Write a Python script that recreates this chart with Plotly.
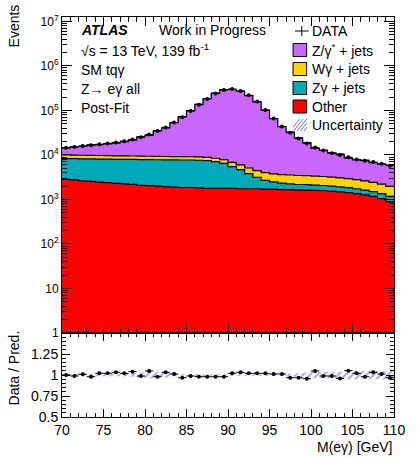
import numpy as np
import plotly.graph_objects as go

# ---------------- data ----------------
bin_edges = list(range(70, 111))          # M(e gamma) bins, 1 GeV wide
data_counts = [14450, 15140, 15850, 16600, 17380, 18200, 19050, 20420, 22390, 25120,
               28840, 34670, 41690, 53700, 70800, 97700, 134900, 182000, 239900, 288400,
               302000, 275400, 218800, 158500, 102300, 66070, 43650, 31620, 23440, 18200,
               14790, 12590, 10970, 10000, 8910, 7940, 7410, 6920, 6310, 5750]
other = [2820, 2750, 2630, 2570, 2460, 2400, 2290, 2240, 2190, 2090,
         2040, 2000, 1950, 1900, 1860, 1860, 1820, 1780, 1780, 1780,
         1780, 1740, 1740, 1740, 1700, 1700, 1660, 1660, 1620, 1620,
         1600, 1570, 1530, 1480, 1420, 1350, 1270, 1170, 1050, 890]
zgam_jets = [5500, 5530, 5560, 5590, 5620, 5650, 5680, 5710, 5740, 5770,
             5800, 5810, 5820, 5830, 5840, 5840, 5800, 5650, 5300, 4680,
             3720, 2940, 2060, 1420, 1000, 780, 660, 590, 550, 530,
             510, 490, 470, 440, 420, 390, 360, 330, 310, 285]
wgam_jets = [1680, 1670, 1660, 1650, 1640, 1620, 1600, 1580, 1560, 1540,
             1520, 1500, 1480, 1460, 1440, 1420, 1400, 1380, 1360, 1340,
             1320, 1310, 1300, 1300, 1300, 1290, 1280, 1300, 1290, 1270,
             1250, 1220, 1180, 1140, 1090, 1040, 980, 920, 860, 790]
zjets = [4450, 5370, 5870, 7130, 7320, 8170, 8890, 10490, 12040, 16030,
         18160, 26070, 31150, 43870, 64000, 89770, 128630, 176900, 236360, 286490,
         289260, 260870, 209410, 150930, 96290, 61520, 39530, 29120, 20760, 15620,
         10750, 9460, 7920, 7360, 5540, 5000, 4950, 4290, 4020, 3980]
ratio_unc = [0.015, 0.015, 0.015, 0.015, 0.015, 0.015, 0.015, 0.015, 0.02, 0.03,
             0.04, 0.04, 0.03, 0.015, 0.01, 0.01, 0.01, 0.01, 0.01, 0.01,
             0.01, 0.01, 0.01, 0.01, 0.01, 0.01, 0.01, 0.015, 0.02, 0.03,
             0.04, 0.04, 0.035, 0.04, 0.05, 0.05, 0.045, 0.05, 0.05, 0.05]

y_ticks = [1, 10, 100, 1e3, 1e4, 1e5, 1e6, 1e7]
y_ticktext = ["1", "10", "10<sup>2</sup>", "10<sup>3</sup>", "10<sup>4</sup>",
              "10<sup>5</sup>", "10<sup>6</sup>", "10<sup>7</sup>"]
r_ticks = [0.5, 0.75, 1, 1.25]
r_ticktext = ["0.5", "0.75", "1", "1.25"]

# ---------------- derived ----------------
edges = np.array(bin_edges, dtype=float)
centers = 0.5 * (edges[:-1] + edges[1:])
half_w = 0.5 * (edges[1:] - edges[:-1])
data = np.array(data_counts, float)
comps = [("Other", np.array(other, float), "#ff0000"),
         ("Zγ + jets", np.array(zgam_jets, float), "#00a9b7"),
         ("Wγ + jets", np.array(wgam_jets, float), "#ffd200"),
         ("Z/γ* + jets", np.array(zjets, float), "#c966fb")]
total = sum(c[1] for c in comps)
ratio = data / total
ratio_err = np.sqrt(data) / total
unc = np.array(ratio_unc)

FONT = "Liberation Sans, Arial, Helvetica, sans-serif"
fig = go.Figure()

# stacked histogram fills
for name, vals, col in comps:
    fig.add_trace(go.Bar(x=centers, y=vals, width=2 * half_w, name=name,
                         marker=dict(color=col, line=dict(color=col, width=0.6)),
                         showlegend=False, xaxis="x", yaxis="y"))

# step outlines on each cumulative level
cum = np.zeros_like(total)
for name, vals, col in comps:
    cum = cum + vals
    fig.add_trace(go.Scatter(x=edges, y=np.append(cum, cum[-1]), mode="lines",
                             line=dict(color="black", width=1.2, shape="hv"),
                             showlegend=False, hoverinfo="skip", xaxis="x", yaxis="y"))

# data points
fig.add_trace(go.Scatter(x=centers, y=data, mode="markers",
                         marker=dict(color="black", size=4),
                         error_x=dict(type="data", array=half_w, width=0, thickness=1, color="black"),
                         error_y=dict(type="data", array=np.sqrt(data), width=0, thickness=1, color="black"),
                         showlegend=False, xaxis="x", yaxis="y"))

# ratio uncertainty band (hatched)
fig.add_trace(go.Scatter(x=edges, y=np.append(1 + unc, 1 + unc[-1]), mode="lines",
                         line=dict(width=0, shape="hv"), showlegend=False,
                         hoverinfo="skip", xaxis="x2", yaxis="y2"))
fig.add_trace(go.Scatter(x=edges, y=np.append(1 - unc, 1 - unc[-1]), mode="lines",
                         line=dict(width=0, shape="hv"), fill="tonexty",
                         fillcolor="rgba(0,0,0,0)",
                         fillpattern=dict(shape="/", fgcolor="#3c3cff", bgcolor="rgba(0,0,0,0)",
                                          size=5, solidity=0.35),
                         showlegend=False, hoverinfo="skip", xaxis="x2", yaxis="y2"))

# ratio points
fig.add_trace(go.Scatter(x=centers, y=ratio, mode="markers",
                         marker=dict(color="black", size=4),
                         error_x=dict(type="data", array=half_w, width=0, thickness=1, color="black"),
                         error_y=dict(type="data", array=ratio_err, width=0, thickness=1, color="black"),
                         showlegend=False, xaxis="x2", yaxis="y2"))

# ---------------- layout ----------------
L, R, T, B = 62, 13, 17, 41
W, H = 417, 458
PW, PH = W - L - R, H - T - B


def px(x):
    return (x - L) / PW


def py(y):
    return (H - B - y) / PH


split = py(333)

axis_common = dict(showline=True, linecolor="black", linewidth=1, mirror="ticks",
                   ticks="inside", showgrid=False, zeroline=False, tickcolor="black")

fig.update_layout(
    width=W, height=H, margin=dict(l=L, r=R, t=T, b=B),
    paper_bgcolor="white", plot_bgcolor="white",
    barmode="stack", bargap=0,
    font=dict(family=FONT, size=14, color="black"),
    xaxis=dict(domain=[0, 1], anchor="y", range=[70, 110], dtick=5, tick0=70,
               ticklen=9, showticklabels=False,
               minor=dict(dtick=1, ticks="inside", ticklen=5, tickcolor="black"),
               **axis_common),
    yaxis=dict(domain=[split, 1], anchor="x", type="log", range=[0, 7.1],
               tickmode="array", tickvals=y_ticks, ticktext=y_ticktext, ticklen=10,
               tickfont=dict(size=12),
               minor=dict(tickmode="array", ticks="inside", ticklen=5, tickcolor="black",
                          tickvals=[m * 10 ** k for k in range(0, 7) for m in range(2, 10)]),
               **axis_common),
    xaxis2=dict(domain=[0, 1], anchor="y2", matches="x", range=[70, 110], dtick=5, tick0=70,
                ticklen=8, tickfont=dict(size=14),
                minor=dict(dtick=1, ticks="inside", ticklen=4, tickcolor="black"),
                **axis_common),
    yaxis2=dict(domain=[0, split], anchor="x2", range=[0.5, 1.5],
                tickmode="array", tickvals=r_ticks, ticktext=r_ticktext, ticklen=8,
                tickfont=dict(size=14),
                minor=dict(tickmode="array", ticks="inside", ticklen=4, tickcolor="black",
                           tickvals=[0.5 + 0.05 * i for i in range(1, 20)]),
                **axis_common),
)

ann = []


def text(x, y, s, **kw):
    d = dict(x=px(x), y=py(y), xref="paper", yref="paper", text=s, showarrow=False,
             xanchor="left", yanchor="middle", font=dict(family=FONT, size=14, color="black"))
    d.update(kw)
    ann.append(d)


text(79, 30, "<b><i>ATLAS</i></b>")
text(160, 30, "Work in Progress")
text(79, 50, "√s = 13 TeV, 139 fb<sup>-1</sup>")
text(79, 70, "SM tqγ")
text(79, 89, "Z→ eγ all")
text(79, 108, "Post-Fit")

# axis titles
text(13, 26, "Events", textangle=-90, xanchor="center", yanchor="middle")
text(13, 368, "Data / Pred.", textangle=-90, xanchor="center", yanchor="middle")
text(404, 447, "M(eγ) [GeV]", xanchor="right")

# manual legend
shapes = []
leg_x0, leg_x1 = 300, 314
text(317, 31, "DATA")
shapes.append(dict(type="line", xref="paper", yref="paper", x0=px(302), x1=px(316),
                   y0=py(31), y1=py(31), line=dict(color="black", width=1)))
shapes.append(dict(type="line", xref="paper", yref="paper", x0=px(309), x1=px(309),
                   y0=py(26), y1=py(36), line=dict(color="black", width=1)))
legend_rows = [("Z/γ<sup>*</sup> + jets", "#c966fb", 50),
               ("Wγ + jets", "#ffd200", 69),
               ("Zγ + jets", "#00a9b7", 88),
               ("Other", "#ff0000", 106.5)]
for lab, col, yc in legend_rows:
    shapes.append(dict(type="rect", xref="paper", yref="paper",
                       x0=px(leg_x0), x1=px(leg_x1), y0=py(yc - 6.5), y1=py(yc + 6.5),
                       fillcolor=col, line=dict(color="black", width=1)))
    text(317, yc, lab)
# hatched uncertainty entry
yc = 125
for k in range(5):
    xa = leg_x0 + k * 3.5 - 3
    xb = xa + 10
    ya, yb = yc + 6, yc - 6
    if xa < leg_x0:
        ya = ya - (leg_x0 - xa) * 12 / 10
        xa = leg_x0
    if xb > leg_x1:
        yb = yb + (xb - leg_x1) * 12 / 10
        xb = leg_x1
    shapes.append(dict(type="line", xref="paper", yref="paper", x0=px(xa), x1=px(xb),
                       y0=py(ya), y1=py(yb), line=dict(color="#6a6aff", width=1)))
text(317, yc, "Uncertainty")

fig.update_layout(annotations=ann, shapes=shapes)
fig.write_html("out.html")
